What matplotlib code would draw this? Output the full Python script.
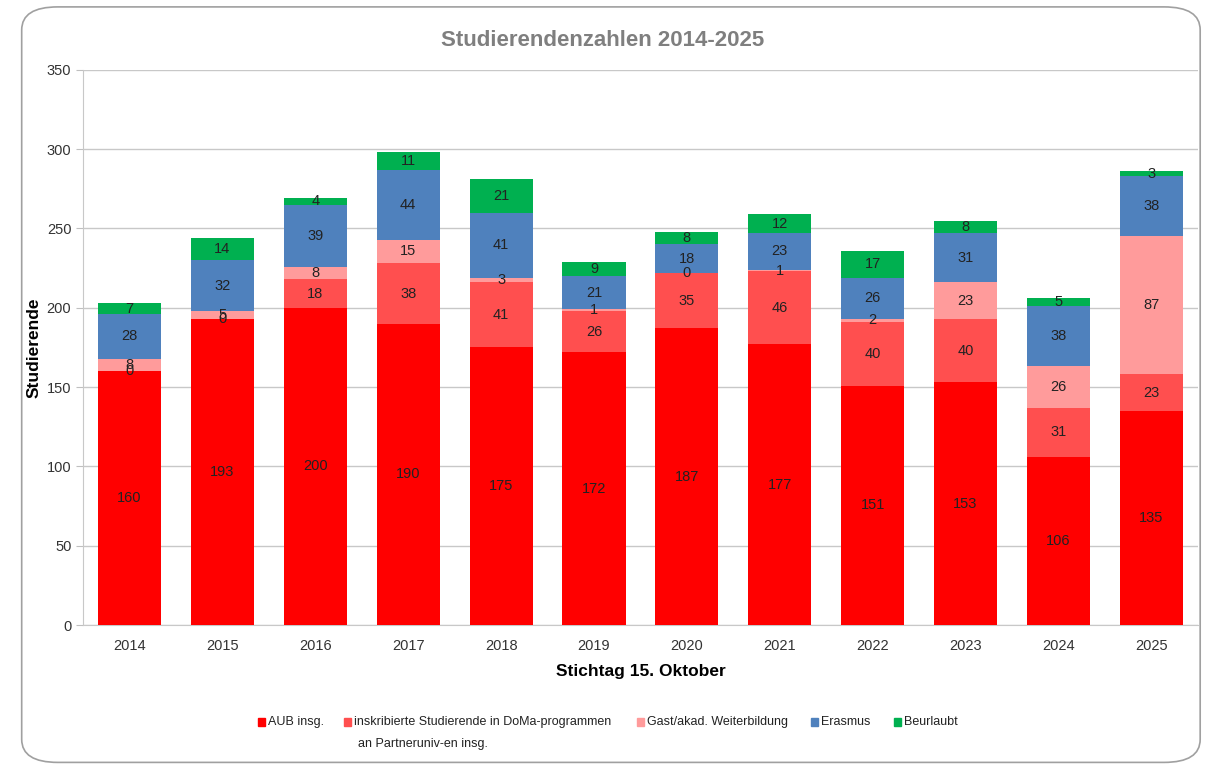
import numpy as np
import matplotlib.pyplot as plt
from matplotlib.patches import FancyBboxPatch, Rectangle

plt.rcParams['font.family'] = ['Liberation Sans', 'DejaVu Sans']

years = ['2014', '2015', '2016', '2017', '2018', '2019', '2020', '2021', '2022', '2023', '2024', '2025']
aub = [160, 193, 200, 190, 175, 172, 187, 177, 151, 153, 106, 135]
doma = [0, 0, 18, 38, 41, 26, 35, 46, 40, 40, 31, 23]
gast = [8, 5, 8, 15, 3, 1, 0, 1, 2, 23, 26, 87]
erasmus = [28, 32, 39, 44, 41, 21, 18, 23, 26, 31, 38, 38]
beurlaubt = [7, 14, 4, 11, 21, 9, 8, 12, 17, 8, 5, 3]

series = [
    ('AUB insg.', aub, '#ff0000'),
    ('inskribierte Studierende in DoMa-programmen\nan Partneruniv-en insg.', doma, '#ff4f4f'),
    ('Gast/akad. Weiterbildung', gast, '#ff9b9b'),
    ('Erasmus', erasmus, '#4f81bd'),
    ('Beurlaubt', beurlaubt, '#00b050'),
]

fig = plt.figure(figsize=(12.05, 7.67), dpi=100)
ax = fig.add_axes([0.069, 0.185, 0.925, 0.724])

x = np.arange(len(years))
bottom = np.zeros(len(years))
for name, vals, col in series:
    vals = np.array(vals)
    ax.bar(x, vals, 0.68, bottom=bottom, color=col, label=name, zorder=3)
    for xi, b, v in zip(x, bottom, vals):
        ax.text(xi, b + v / 2, str(v), ha='center', va='center', fontsize=10.5, color='#222222', zorder=4)
    bottom += vals

ax.set_xlim(-0.5, len(years) - 0.5)
ax.set_ylim(0, 350)
ax.set_yticks(range(0, 351, 50))
ax.set_xticks(x)
ax.set_xticklabels(years)
ax.tick_params(axis='both', labelsize=10.5, colors='#333333')
ax.tick_params(axis='y', length=5, color='#bfbfbf')
ax.tick_params(axis='x', length=0, pad=10)
ax.grid(axis='y', color='#c8c8c8', linewidth=1, zorder=0)
for s in ['top', 'right']:
    ax.spines[s].set_visible(False)
ax.spines['left'].set_color('#c8c8c8')
ax.spines['bottom'].set_color('#c8c8c8')

ax.set_ylabel('Studierende', fontsize=12.5, fontweight='bold', labelpad=4)
ax.set_xlabel('Stichtag 15. Oktober', fontsize=12.5, fontweight='bold', labelpad=8)
fig.text(0.5, 0.947, 'Studierendenzahlen 2014-2025', ha='center', va='center',
         fontsize=16, fontweight='bold', color='#7f7f7f')

# legend drawn by hand so the two-line entry sits like in the original
leg_x = [262, 348, 641, 815, 898]
leg_y = 767 - 722
for (name, vals, col), lx in zip(series, leg_x):
    fig.patches.append(Rectangle(((lx - 4) / 1205, (leg_y - 4) / 767), 7 / 1205, 8 / 767,
                                 transform=fig.transFigure, color=col))
    lines = name.split('\n')
    fig.text((lx + 6) / 1205, leg_y / 767, lines[0], ha='left', va='center', fontsize=9, color='#222222')
    if len(lines) > 1:
        fig.text((lx + 10) / 1205, (leg_y - 22) / 767, lines[1], ha='left', va='center',
                 fontsize=9, color='#222222')

border = FancyBboxPatch((0.018, 0.006), 0.978, 0.985, boxstyle='round,pad=0,rounding_size=0.03',
                        transform=fig.transFigure, fill=False, edgecolor='#a0a0a0', linewidth=1.2)
fig.patches.append(border)

fig.savefig('out.png', dpi=100)
